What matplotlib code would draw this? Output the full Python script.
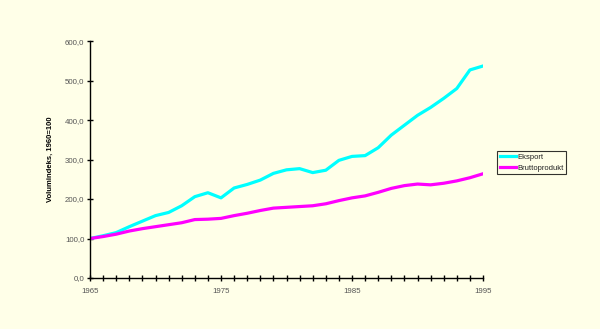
import matplotlib
matplotlib.use("Agg")
import matplotlib.pyplot as plt
from matplotlib.ticker import MultipleLocator, FuncFormatter

plt.rcParams["font.family"] = ["Liberation Sans", "DejaVu Sans"]

years = list(range(1965, 1996))
eksport = [100, 107, 115, 130, 144, 158, 166, 183, 206, 216, 203, 228, 237, 248, 265,
           274, 277, 267, 273, 298, 308, 310, 330, 362, 387, 412, 432, 455, 480, 527, 537]
brutto = [100, 105, 111, 119, 125, 130, 135, 140, 148, 149, 151, 158, 164, 171, 177,
          179, 181, 183, 188, 196, 203, 208, 217, 227, 234, 238, 236, 240, 246, 254, 264]
xticks = [1965, 1975, 1985, 1995]
yticks = [0, 100, 200, 300, 400, 500, 600]

bg = "#FFFFE8"
fig = plt.figure(figsize=(6, 3.29), dpi=100, facecolor=bg)
ax = fig.add_axes([0.15, 0.155, 0.655, 0.72], facecolor=bg)

ax.plot(years, eksport, color="#00FFFF", lw=2.3, label="Eksport")
ax.plot(years, brutto, color="#FF00FF", lw=2.3, label="Bruttoprodukt")

ax.set_xlim(1965, 1995)
ax.set_ylim(0, 600)
for s in ["top", "right"]:
    ax.spines[s].set_visible(False)
for s in ["left", "bottom"]:
    ax.spines[s].set_color("black")
    ax.spines[s].set_linewidth(1.0)

ax.set_xticks(xticks)
ax.xaxis.set_minor_locator(MultipleLocator(1))
ax.set_yticks(yticks)
ax.yaxis.set_major_formatter(FuncFormatter(lambda v, p: f"{v:.1f}".replace(".", ",")))
ax.tick_params(axis="both", which="both", direction="inout", length=4, width=1,
               colors="black", labelcolor="#555555", labelsize=5.7, pad=2)
ax.tick_params(axis="x", which="major", pad=5)

ax.set_ylabel("Volumindeks, 1960=100", fontsize=5.5, fontweight="bold", labelpad=8)

leg = ax.legend(loc="upper left", bbox_to_anchor=(1.036, 0.537), fontsize=5.5,
                frameon=True, fancybox=False, edgecolor="black", facecolor=bg,
                handlelength=2.1, handletextpad=0.2, borderpad=0.35, labelspacing=0.45,
                borderaxespad=0)
leg.get_frame().set_linewidth(0.8)
for t in leg.get_texts():
    t.set_color("#222222")

fig.savefig("out.png", dpi=100, facecolor=bg)
